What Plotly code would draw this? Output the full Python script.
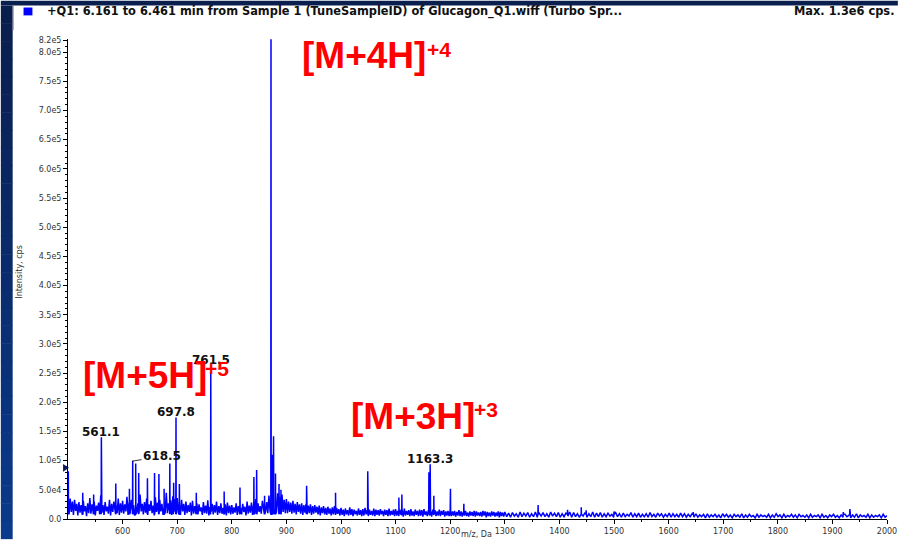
import numpy as np
import plotly.graph_objects as go

# ---------------- data ----------------
# noise band, values in thousands of cps
NOISE_500_598 = [38, 9, 35, 12, 30, 7, 33, 14, 26, 6,
                 29, 11, 24, 8, 31, 13, 22, 5, 27, 10,
                 36, 9, 25, 12, 30, 6, 23, 14, 28, 8,
                 40, 11, 24, 7, 29, 13, 21, 9, 33, 6,
                 26, 12, 30, 8, 24, 10, 35, 7, 27, 11]
NOISE_600_698 = [31, 9, 25, 13, 38, 7, 28, 11, 33, 14,
                 24, 6, 30, 12, 27, 9, 42, 13, 26, 8,
                 29, 11, 35, 7, 25, 14, 31, 10, 23, 6,
                 37, 12, 28, 9, 33, 13, 26, 8, 30, 11,
                 45, 10, 27, 14, 32, 7, 39, 12, 34, 9]
NOISE_700_798 = [36, 11, 29, 8, 33, 13, 26, 7, 30, 10,
                 24, 12, 28, 6, 31, 9, 22, 11, 27, 8,
                 25, 13, 20, 7, 29, 10, 23, 9, 32, 6,
                 21, 12, 26, 8, 24, 11, 30, 7, 22, 10,
                 27, 9, 19, 12, 25, 6, 28, 10, 23, 8]
NOISE_800_898 = [24, 9, 20, 11, 27, 7, 22, 10, 19, 8,
                 26, 12, 21, 6, 30, 9, 23, 11, 28, 7,
                 25, 10, 34, 8, 27, 12, 22, 9, 31, 11,
                 36, 13, 29, 10, 40, 14, 45, 12, 52, 16,
                 48, 13, 44, 15, 38, 11, 42, 12, 33, 10]
NOISE_900_998 = [34, 10, 30, 12, 28, 9, 31, 11, 26, 8, 29, 12, 25, 9, 27, 7, 24, 11, 26, 8,
                 23, 10, 25, 7, 22, 9, 24, 11, 21, 8, 23, 6, 20, 10, 22, 8, 19, 7, 21, 9,
                 18, 6, 20, 8, 22, 7, 19, 9, 17, 6]
NOISE_1000_1098 = [19, 7, 16, 5, 18, 8, 15, 6, 20, 7, 17, 5, 16, 8, 14, 6, 18, 7, 15, 5,
                   17, 6, 19, 8, 15, 5, 16, 7, 14, 6, 18, 5, 16, 7, 15, 6, 17, 8, 14, 5,
                   16, 7, 15, 5, 18, 6, 14, 7, 16, 5]
NOISE_1100_1198 = [17, 6, 14, 5, 16, 7, 15, 4, 18, 6, 14, 7, 15, 5, 17, 6, 13, 5, 16, 7,
                   14, 5, 16, 6, 15, 4, 17, 7, 13, 5, 15, 6, 14, 4, 16, 7, 15, 5, 13, 6,
                   16, 5, 14, 7, 15, 4, 13, 6, 14, 5]
NOISE_1200_1298 = [15, 5, 13, 6, 14, 4, 12, 6, 15, 5, 13, 4, 12, 6, 14, 5, 11, 4, 13, 6,
                   12, 5, 14, 4, 13, 6, 11, 5, 12, 4, 14, 6, 13, 3, 12, 5, 11, 4, 13, 6,
                   12, 4, 11, 5, 13, 3, 12, 5, 11, 4]
NOISE_1300_1471 = [12, 4, 10, 3, 11, 5, 9, 3, 12, 4, 10, 5, 11, 3, 9, 4, 12, 3, 10, 5,
                   11, 4, 9, 3, 12, 5, 10, 4, 11, 3, 9, 4, 10, 5, 12, 3, 11, 4, 9, 3,
                   10, 5, 11, 3, 9, 4, 12, 3, 10, 4]
NOISE_1475_1646 = [11, 3, 9, 4, 10, 5, 8, 3, 11, 4, 9, 3, 10, 4, 8, 5, 11, 3, 9, 4,
                   10, 3, 8, 4, 9, 3, 11, 4, 8, 3, 10, 5, 9, 3, 8, 4, 10, 3, 9, 4,
                   8, 3, 10, 4, 9, 3, 8, 4, 9, 3]
NOISE_1650_1821 = [9, 3, 7, 4, 8, 2, 9, 3, 7, 4, 8, 3, 7, 2, 9, 4, 8, 3, 7, 2,
                   8, 4, 7, 3, 9, 2, 7, 3, 8, 4, 6, 2, 8, 3, 7, 4, 6, 3, 8, 2,
                   7, 3, 9, 4, 7, 2, 8, 3, 6, 4]
NOISE_1825_2000 = [8, 3, 7, 2, 8, 4, 6, 3, 7, 2, 8, 3, 6, 4, 7, 2, 8, 3, 6, 2,
                   7, 4, 8, 3, 6, 2, 7, 3, 8, 4, 6, 2, 7, 3, 9, 2, 7, 4, 6, 3,
                   8, 2, 7, 3, 6, 4, 7, 2, 8, 3, 6]
NOISE_SEGMENTS = [(500, 2, NOISE_500_598), (600, 2, NOISE_600_698), (700, 2, NOISE_700_798),
                  (800, 2, NOISE_800_898), (900, 2, NOISE_900_998), (1000, 2, NOISE_1000_1098),
                  (1100, 2, NOISE_1100_1198), (1200, 2, NOISE_1200_1298),
                  (1300, 3.5, NOISE_1300_1471), (1475, 3.5, NOISE_1475_1646),
                  (1650, 3.5, NOISE_1650_1821), (1825, 3.5, NOISE_1825_2000)]

PEAK_MZ = [500.6, 527, 547, 561.1, 587.5, 612.5, 618.5, 624.0, 629.5, 645.5, 658.5, 666.5, 676,
           686.5, 693.5, 697.8, 704, 735, 761.5, 786, 815, 840.5, 845.5, 860, 871.8, 874.0, 876.5,
           880, 886.5, 890, 937, 990, 1049, 1106, 1111.5, 1161.0, 1163.3, 1170, 1200.5, 1225,
           1361, 1415, 1440, 1449, 1500, 1645, 1920, 1932]
PEAK_I = [82000, 45000, 42000, 140000, 61000, 52000, 100000, 95000, 79000, 70000, 79000, 77000, 52000,
          95000, 62000, 174000, 60000, 45000, 251000, 47000, 54000, 72000, 84000, 40000, 822000, 110000,
          142000, 78000, 60000, 50000, 57000, 45000, 82000, 37000, 42000, 80000, 94000, 40000, 52000,
          26000, 24000, 16000, 20000, 15000, 13000, 12000, 12000, 17000]

LABELS = ["871.8", "761.5", "697.8", "561.1", "618.5", "1163.3"]

X_TICKS = list(range(600, 2001, 100))
Y_TICKS = [0, 50000, 100000, 150000, 200000, 250000, 300000, 350000, 400000, 450000,
           500000, 550000, 600000, 650000, 700000, 750000, 800000, 820000]
Y_TICKTEXT = ["0.0", "5.0e4", "1.0e5", "1.5e5", "2.0e5", "2.5e5", "3.0e5", "3.5e5", "4.0e5", "4.5e5",
              "5.0e5", "5.5e5", "6.0e5", "6.5e5", "7.0e5", "7.5e5", "8.0e5", "8.2e5"]

# ---------------- build the profile ----------------
mz_list, it_list = [], []
for start, step, vals in NOISE_SEGMENTS:
    v = np.array(vals, dtype=float) * 1000.0
    m = start + step * np.arange(len(v))
    mz_list.append(m)
    it_list.append(v)
BASE = 8000.0
for m, i in zip(PEAK_MZ, PEAK_I):
    mz_list.append(np.array([m - 0.35, m, m + 0.35]))
    it_list.append(np.array([BASE, i, BASE]))
mz = np.concatenate(mz_list)
it = np.concatenate(it_list)
order = np.argsort(mz, kind="stable")
mz, it = mz[order], it[order]

# ---------------- layout geometry ----------------
W, H = 908, 547
L, R, T, B = 68, 11, 39, 20
PW, PH = W - L - R, H - T - B
XR = [500, 2000]
YR = [0, 822500]


def px_x(px):
    return (px - L) / PW


def px_y(py):
    return (H - B - py) / PH


def py_val(py):
    return (H - B - py) / PH * (YR[1] - YR[0])


fig = go.Figure()
fig.add_trace(go.Scatter(x=mz, y=it, mode="lines",
                         line=dict(color="#0000ff", width=1.5), hoverinfo="skip",
                         showlegend=False))

BLACK_FONT = "DejaVu Sans"
RED_FONT = "Liberation Sans, Arial"

ann = []
# peak labels
label_pos = {"871.8": (871.8, 33), "761.5": (761.5, 365), "697.8": (697.8, 418),
             "561.1": (561.1, 439), "1163.3": (1162.5, 466)}
for lab in LABELS:
    if lab == "618.5":
        ann.append(dict(x=617.3, y=99000, xref="x", yref="y", text="<b>618.5</b>",
                        showarrow=True, arrowhead=0, arrowwidth=0.8, arrowcolor="#000000",
                        ax=30, ay=-5, font=dict(family=BLACK_FONT, size=12, color="#111111")))
    else:
        x, py = label_pos[lab]
        ann.append(dict(x=x, y=py_val(py), xref="x", yref="y", text="<b>%s</b>" % lab,
                        showarrow=False, xanchor="center", yanchor="middle",
                        font=dict(family=BLACK_FONT, size=12, color="#111111")))

# red ion annotations
for main, sup, lx, ly, sx, sy in [("[M+4H]", "+4", 303, 56, 429, 50),
                                  ("[M+5H]", "+5", 81, 381, 205, 374),
                                  ("[M+3H]", "+3", 352, 423, 477, 416)]:
    ann.append(dict(x=px_x(lx), y=px_y(ly), xref="paper", yref="paper", text="<b>%s</b>" % main,
                    showarrow=False, xanchor="left", yanchor="middle",
                    font=dict(family=RED_FONT, size=37, color="#ff0000")))
    ann.append(dict(x=px_x(sx), y=px_y(sy), xref="paper", yref="paper", text="<b>%s</b>" % sup,
                    showarrow=False, xanchor="left", yanchor="middle",
                    font=dict(family=RED_FONT, size=21, color="#ff0000")))

# header texts
ann.append(dict(x=px_x(45), y=px_y(11), xref="paper", yref="paper",
                text="<b>+Q1: 6.161 to 6.461 min from Sample 1 (TuneSampleID) of Glucagon_Q1.wiff (Turbo Spr...</b>",
                showarrow=False, xanchor="left", yanchor="middle",
                font=dict(family=BLACK_FONT, size=11.4, color="#111111")))
ann.append(dict(x=px_x(906), y=px_y(11), xref="paper", yref="paper",
                text="<b>Max. 1.3e6 cps.</b>", showarrow=False, xanchor="right", yanchor="middle",
                font=dict(family=BLACK_FONT, size=11.4, color="#111111")))
# axis titles
ann.append(dict(x=px_x(19), y=px_y(276), xref="paper", yref="paper", text="Intensity, cps",
                textangle=-90, showarrow=False, xanchor="center", yanchor="middle",
                font=dict(family=BLACK_FONT, size=8, color="#333333")))
ann.append(dict(x=px_x(481), y=px_y(543), xref="paper", yref="paper", text="m/z, Da",
                showarrow=False, xanchor="center", yanchor="middle",
                font=dict(family=BLACK_FONT, size=8, color="#333333")))

# ---------------- background decoration ----------------
shapes = []
shapes.append(dict(type="rect", xref="paper", yref="paper", x0=px_x(0), x1=px_x(W),
                   y0=px_y(5), y1=px_y(0), fillcolor="#0b1f4f", line=dict(width=0), layer="below"))
n = 30
c0 = np.array([10, 30, 78])
c1 = np.array([10, 58, 140])
for k in range(n):
    c = c0 + (c1 - c0) * k / (n - 1)
    y0p = 5 + (H - 5) * k / n
    y1p = 5 + (H - 5) * (k + 1) / n
    shapes.append(dict(type="rect", xref="paper", yref="paper", x0=px_x(0), x1=px_x(12),
                       y0=px_y(y1p + 0.5), y1=px_y(y0p), fillcolor="rgb(%d,%d,%d)" % tuple(c.astype(int)),
                       line=dict(width=0), layer="below"))
shapes.append(dict(type="line", xref="paper", yref="paper", x0=px_x(12.5), x1=px_x(12.5),
                   y0=px_y(30), y1=px_y(5), line=dict(color="#8a8a8a", width=1)))
# blue square marker of the header
shapes.append(dict(type="rect", xref="paper", yref="paper", x0=px_x(23), x1=px_x(32),
                   y0=px_y(15), y1=px_y(7), fillcolor="#0000ff", line=dict(width=0)))
# cursor triangle at the left axis
tx0, tx1 = px_x(63), px_x(69)
ty0, ty1, tym = px_y(471), px_y(479), px_y(475)
shapes.append(dict(type="path", xref="paper", yref="paper",
                   path="M %f,%f L %f,%f L %f,%f Z" % (tx0, ty0, tx1, tym, tx0, ty1),
                   fillcolor="#0a1a5a", line=dict(width=0)))

fig.update_layout(
    width=W, height=H,
    margin=dict(l=L, r=R, t=T, b=B, pad=0),
    paper_bgcolor="#ffffff", plot_bgcolor="#ffffff",
    annotations=ann, shapes=shapes, showlegend=False,
    xaxis=dict(range=XR, showgrid=False, zeroline=False, showline=True, linecolor="#000000",
               linewidth=1, ticks="outside", ticklen=4, tickcolor="#000000", tickwidth=1,
               tickmode="array", tickvals=X_TICKS, ticktext=[str(v) for v in X_TICKS],
               tickfont=dict(family=BLACK_FONT, size=8, color="#333333"),
               minor=dict(ticks="outside", ticklen=2, tickcolor="#000000",
                          tickmode="array", tickvals=list(range(550, 2000, 100))),
               fixedrange=True),
    yaxis=dict(range=YR, showgrid=False, zeroline=False, showline=True, linecolor="#000000",
               linewidth=1, ticks="outside", ticklen=4, tickcolor="#000000", tickwidth=1,
               tickmode="array", tickvals=Y_TICKS, ticktext=Y_TICKTEXT,
               tickfont=dict(family=BLACK_FONT, size=8, color="#333333"),
               minor=dict(ticks="outside", ticklen=2, tickcolor="#000000",
                          tickmode="array", tickvals=list(range(10000, 820001, 10000))),
               fixedrange=True),
)

fig.write_html("out.html", config={"displayModeBar": False},
               post_script="document.body.style.margin='0px';document.body.style.overflow='hidden';")
